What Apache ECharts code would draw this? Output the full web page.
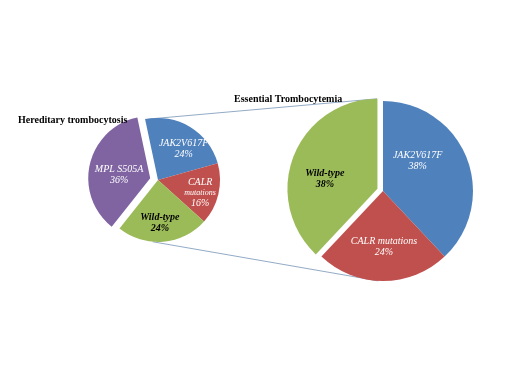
<!DOCTYPE html>
<html><head><meta charset="utf-8">
<script src="https://cdn.jsdelivr.net/npm/echarts@6/dist/echarts.min.js"></script>
<style>html,body{margin:0;padding:0;background:#fff}#c{width:520px;height:390px}</style>
</head><body><div id="c"></div>
<script>
// Data
const htCategories = ['JAK2V617F', 'CALR\nmutations', 'Wild-type', 'MPL S505A'];
const htValues = [24, 16, 24, 36];
const etCategories = ['JAK2V617F', 'CALR mutations', 'Wild-type'];
const etValues = [38, 24, 38];

const colors = { 'JAK2V617F': '#4f81bd', 'CALR': '#c0504d', 'Wild-type': '#9bbb59', 'MPL S505A': '#8064a2' };
function colorOf(name){ return name.startsWith('CALR') ? colors.CALR : colors[name]; }

// layout / style
const S = { c: [158, 180], r: 62, start: 102, explode: 'MPL S505A', off: 8 };
const L = { c: [383, 191], r: 90, start: 90, explode: 'Wild-type', off: 6 };
const smallLabelOffsets = [[8, -2], [9, 5], [-1, 9], [2, 4]];
const largeLabelOffsets = [[-10, -12], [1, 8], [-8, 8]];
const serif = '"Liberation Serif", "DejaVu Serif", serif';

function items(cats, vals, cfg, offs, fs, overlay){
  return cats.map((n, i) => {
    const wild = n === 'Wild-type';
    const lab = {
      show: true,
      offset: offs[i],
      color: wild ? '#000' : '#fff',
      fontWeight: wild ? 'bold' : 'normal',
      fontSize: fs
    };
    return {
      name: n, value: vals[i], selected: n === cfg.explode,
      itemStyle: overlay ? { color: 'rgba(0,0,0,0)' } : { color: colorOf(n) },
      label: overlay ? lab : { show: false },
      select: { label: overlay ? lab : { show: false }, itemStyle: overlay ? { color: 'rgba(0,0,0,0)' } : { color: colorOf(n) } }
    };
  });
}

function fmt(p){
  const parts = p.name.split('\n');
  return parts[0] + (parts[1] ? '\n{s|' + parts[1] + '}' : '') + '\n' + p.value + '%';
}

function pie(cats, vals, cfg, offs, fs, overlay){
  return {
    type: 'pie', center: cfg.c, radius: cfg.r, startAngle: cfg.start, clockwise: true,
    selectedMode: 'multiple', selectedOffset: cfg.off, animation: false, silent: true,
    z: overlay ? 5 : 2,
    avoidLabelOverlap: false,
    label: {
      show: overlay, position: 'inside', fontFamily: serif, fontStyle: 'italic',
      lineHeight: fs + 1, overflow: 'none',
      formatter: fmt,
      rich: { s: { fontSize: 8, lineHeight: 10, fontFamily: serif, fontStyle: 'italic', color: '#fff' } }
    },
    labelLine: { show: false },
    emphasis: { disabled: true },
    itemStyle: { borderWidth: 0 },
    data: items(cats, vals, cfg, offs, fs, overlay)
  };
}

// connector endpoints computed from pie geometry (angle clockwise from top)
function pt(cfg, angDeg, shift){
  const a = angDeg * Math.PI / 180;
  let x = cfg.c[0] + cfg.r * Math.sin(a), y = cfg.c[1] - cfg.r * Math.cos(a);
  if (shift) { const b = shift.ang * Math.PI / 180; x += shift.d * Math.sin(b); y -= shift.d * Math.cos(b); }
  return [x, y];
}
const greenMid = 360 - etValues[2] / 100 * 180;
const p1 = pt(S, -12), p2 = pt(L, 359.8, { ang: greenMid, d: L.off });
const p3 = pt(S, 185), p4 = pt(L, 183);
const lineStyle = { stroke: '#93abc6', lineWidth: 1 };

const chart = echarts.init(document.getElementById('c'), null, { renderer: 'canvas' });
chart.setOption({
  backgroundColor: '#fff',
  animation: false,
  title: [
    { text: 'Hereditary trombocytosis', left: 13, top: 110, textStyle: { fontFamily: serif, fontSize: 10, fontWeight: 'bold', color: '#000' } },
    { text: 'Essential Trombocytemia', left: 229, top: 89, textStyle: { fontFamily: serif, fontSize: 10, fontWeight: 'bold', color: '#000' } }
  ],
  graphic: [
    { type: 'line', shape: { x1: p1[0], y1: p1[1], x2: p2[0], y2: p2[1] }, style: lineStyle, z: -1 },
    { type: 'line', shape: { x1: p3[0], y1: p3[1], x2: p4[0], y2: p4[1] }, style: lineStyle, z: -1 }
  ],
  series: [
    pie(htCategories, htValues, S, smallLabelOffsets, 10, false),
    pie(etCategories, etValues, L, largeLabelOffsets, 10, false),
    pie(htCategories, htValues, S, smallLabelOffsets, 10, true),
    pie(etCategories, etValues, L, largeLabelOffsets, 10, true)
  ]
});
</script></body></html>
